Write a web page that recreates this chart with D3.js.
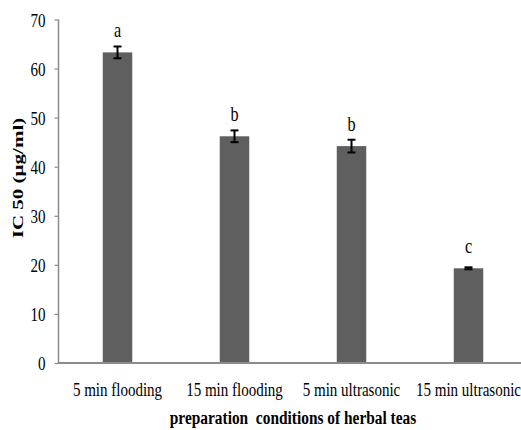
<!DOCTYPE html>
<html><head><meta charset="utf-8">
<script src="https://cdn.jsdelivr.net/npm/d3@7"></script>
<style>body{margin:0;background:#fff}svg{display:block}</style>
</head><body>
<svg id="c" width="521" height="430"></svg>
<script>
const categories = ["5 min flooding","15 min flooding","5 min ultrasonic","15 min ultrasonic"];
const values = [63.3, 46.2, 44.2, 19.3];
const errors = [1.2, 1.2, 1.3, 0.2];
const letters = ["a","b","b","c"];
const yTicks = [0,10,20,30,40,50,60,70];

const svg = d3.select("#c");
const font = "'Liberation Serif','Times New Roman',serif";
const SX = 0.77;
const x = d3.scaleBand().domain(categories).range([59, 527]).paddingInner(0.748).paddingOuter(0.374);
const y = d3.scaleLinear().domain([0,70]).range([363, 19.5]);

// bars
svg.selectAll("rect.bar").data(values).enter().append("rect")
  .attr("x",(d,i)=>x(categories[i])).attr("width",x.bandwidth())
  .attr("y",d=>y(d)).attr("height",d=>y(0)-y(d)).attr("fill","#5f5f5f");

// y axis
const ya = svg.append("g").attr("transform","translate(58.5,0)")
  .call(d3.axisLeft(y).tickValues(yTicks).tickSize(4).tickPadding(6).tickFormat(d3.format("d")));
ya.select(".domain").attr("stroke","#8c8c8c").attr("stroke-width",1.5).attr("d","M0,19.5V363");
ya.selectAll(".tick line").attr("stroke","#8c8c8c").attr("stroke-width",1.2);
ya.selectAll(".tick text").attr("font-family",font).attr("font-size",19.5).attr("fill","#000")
  .attr("transform",`scale(${SX},1)`).attr("x",-13/SX).attr("dy","0.34em");

// x axis
const xa = svg.append("g").attr("transform","translate(0,363)")
  .call(d3.axisBottom(x).tickSize(0).tickPadding(0));
xa.select(".domain").attr("stroke","#8c8c8c").attr("stroke-width",2).attr("d","M58,0H521");
xa.selectAll(".tick").each(function(d){
  const g = d3.select(this);
  const cx = x(d)+x.bandwidth()/2;
  g.attr("transform",`translate(${cx},0) scale(${SX},1)`);
});
xa.selectAll(".tick text").attr("font-family",font).attr("font-size",19.5).attr("fill","#000")
  .attr("y",33).attr("dy",0);

// error bars
const eb = svg.append("g").attr("stroke","#000").attr("stroke-width",2);
values.forEach((v,i)=>{
  const cx = x(categories[i])+x.bandwidth()/2;
  const t = y(v+errors[i]), b = y(v-errors[i]);
  eb.append("line").attr("x1",cx).attr("x2",cx).attr("y1",t).attr("y2",b);
  eb.append("line").attr("x1",cx-4).attr("x2",cx+4).attr("y1",t).attr("y2",t);
  eb.append("line").attr("x1",cx-4).attr("x2",cx+4).attr("y1",b).attr("y2",b);
});

// letters
svg.selectAll("text.lab").data(letters).enter().append("text")
  .attr("transform",(d,i)=>`translate(${x(categories[i])+x.bandwidth()/2},${y(values[i])-15}) scale(${SX},1)`)
  .attr("text-anchor","middle").attr("font-family",font).attr("font-size",21).text(d=>d);

// titles
svg.append("text").attr("transform",`translate(293,424) scale(0.79,1)`).attr("text-anchor","middle")
  .attr("font-family",font).attr("font-size",19.5).attr("font-weight","bold")
  .attr("xml:space","preserve").style("white-space","pre").text("preparation  conditions of herbal teas");
svg.append("text").attr("transform",`translate(18,178) scale(0.7,1) rotate(-90)`).attr("text-anchor","middle")
  .attr("dominant-baseline","central")
  .attr("font-family",font).attr("font-size",21).attr("font-weight","bold").text("IC 50 (µg/ml)");
</script>
</body></html>
